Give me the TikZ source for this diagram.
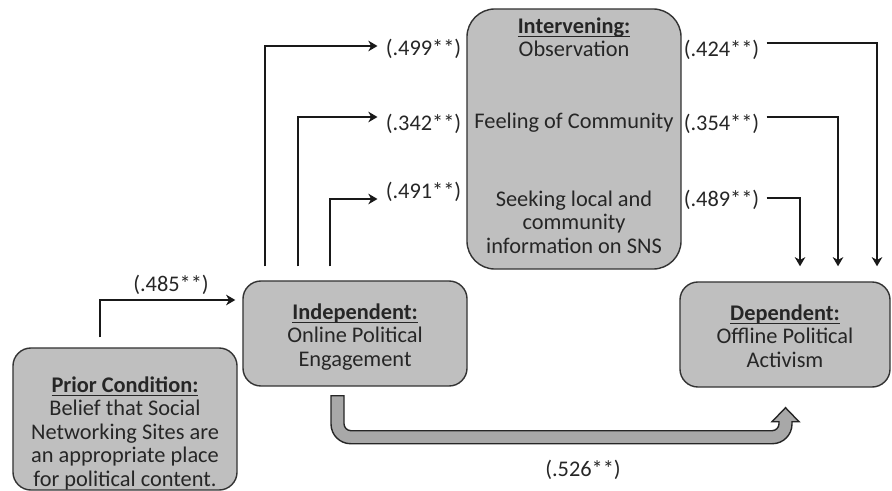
\documentclass[tikz,border=0pt]{standalone}
\usepackage{amsmath}
\usepackage{fontspec}
\setmainfont{Carlito}
\usetikzlibrary{arrows.meta}

\newcommand{\heading}[1]{\underline{\smash[b]{\textbf{#1}}}}

\tikzset{
  varbox/.style={draw=black!80,line width=1pt,fill=gray!50,rounded corners=0.45cm},
  vartext/.style={align=center,inner sep=0pt,text=black!85,font=\fontsize{15.9}{16.7}\selectfont},
  coef/.style={vartext},
  linkarrow/.style={draw=black!90,line width=1.4pt,-{Stealth[length=6.5pt,width=7.5pt,inset=2pt]}},
  fatarrow/.style={draw=black!85,line width=1pt,fill=gray!68}
}

\begin{document}
\begin{tikzpicture}
\begin{scope}[x=0.025cm,y=-0.025cm]
\useasboundingbox (0,0) rectangle (892,491);

\node[varbox,minimum width=5.6cm,minimum height=3.55cm] (prior) at (125,419) {};
\node[varbox,minimum width=5.6cm,minimum height=2.625cm] (ind) at (355,333.5) {};
\node[varbox,minimum width=5.35cm,minimum height=6.5cm,rounded corners=0.7cm] (int) at (574,139) {};
\node[varbox,minimum width=5.25cm,minimum height=2.625cm] (dep) at (785,334.5) {};

\node[vartext] (priortext) at (125,433) {\heading{Prior Condition:}\\Belief that Social\\Networking Sites are\\an appropriate place\\for political content.};
\node[vartext] (indtext) at (355,337) {\heading{Independent:}\\Online Political\\Engagement};
\node[vartext] (deptext) at (785,336) {\heading{Dependent:}\\Offline Political\\Activism};
\node[vartext] (obs) at (574,37) {\heading{Intervening:}\\Observation};
\node[vartext] (feel) at (574,123) {Feeling of Community};
\node[vartext] (seek) at (574,222) {Seeking local and\\community\\information on SNS};

\node[coef] (c485) at (171,285) {(.485**)};
\node[coef] (c499) at (423.5,49) {(.499**)};
\node[coef] (c342) at (423.5,124) {(.342**)};
\node[coef] (c491) at (423.5,192) {(.491**)};
\node[coef] (c424) at (721.5,50) {(.424**)};
\node[coef] (c354) at (721.5,124) {(.354**)};
\node[coef] (c489) at (721.5,200) {(.489**)};
\node[coef] (c526) at (583,470) {(.526**)};

\draw[linkarrow] ([shift={(-25,-10)}]prior.north) |- ([shift={(-7,-33.5)}]ind.west);

\draw[linkarrow] ([shift={(-90,-14)}]ind.north) |- ([shift={(-8,-3)}]c499.west);
\draw[linkarrow] ([shift={(-57,-14)}]ind.north) |- ([shift={(-8,-7)}]c342.west);
\draw[linkarrow] ([shift={(-25,-14)}]ind.north) |- ([shift={(-8,7)}]c491.west);

\draw[linkarrow] ([shift={(7,-7)}]c424.east) -| ([shift={(92,-15)}]dep.north);
\draw[linkarrow] ([shift={(7,-7)}]c354.east) -| ([shift={(53,-15)}]dep.north);
\draw[linkarrow] ([shift={(7,-2)}]c489.east) -| ([shift={(15,-15)}]dep.north);

\coordinate (fa) at ([shift={(-17.5,9)}]ind.south);
\coordinate (fb) at ([shift={(0.5,20)}]dep.south);
\path[fatarrow]%
([shift={(-6.5,0)}]fa) [rounded corners=14pt]
-- ([shift={(-6.5,48)}]fa) -- ([shift={(6.5,36)}]fb) [sharp corners]
-- ([shift={(6.5,14)}]fb) -- ([shift={(13.5,14)}]fb) -- (fb)
-- ([shift={(-13.5,14)}]fb) -- ([shift={(-6.5,14)}]fb) [rounded corners=5pt]
-- ([shift={(-6.5,23)}]fb) -- ([shift={(6.5,35)}]fa) [sharp corners]
-- ([shift={(6.5,0)}]fa) -- cycle;

\end{scope}
\end{tikzpicture}
\end{document}
